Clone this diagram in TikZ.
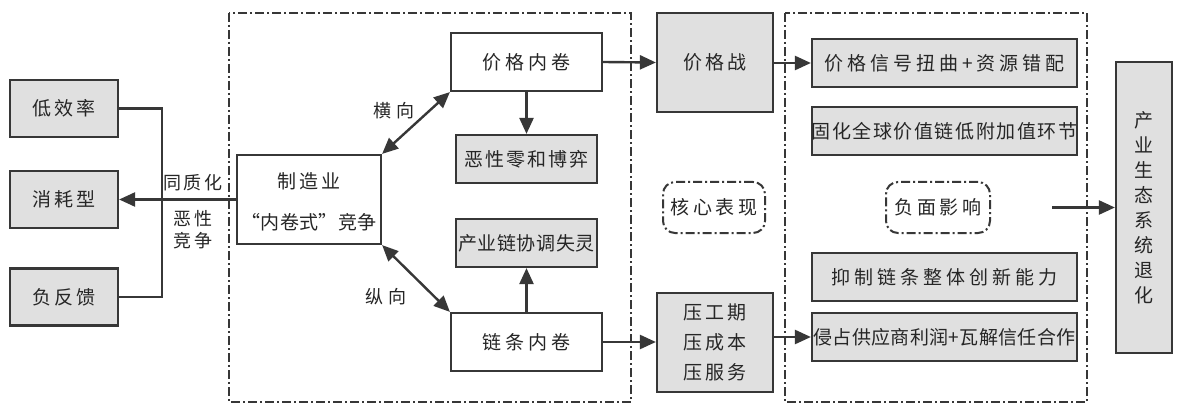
\documentclass[tikz,border=0pt]{standalone}
\usepackage{fontspec}
\newfontfamily\cjk{Noto Sans CJK SC}
\newcommand\lsp[1]{\addfontfeature{LetterSpace=#1}}
\usetikzlibrary{arrows.meta}
\definecolor{boxfill}{RGB}{224,224,224}
\definecolor{linec}{RGB}{55,55,55}
\tikzset{
  base/.style={font=\cjk\fontsize{19}{23}\selectfont, text=black!85, inner sep=0pt},
  plainbox/.style={base, draw=linec, line width=2.2pt, fill=white},
  graybox/.style={base, draw=linec, line width=2.2pt, fill=boxfill},
  ddframe/.style={draw=linec, line width=1.6pt, dash pattern=on 9pt off 3pt on 2pt off 3pt},
  roundlbl/.style={base, draw=linec, line width=2pt, rounded corners=12pt, dash pattern=on 9pt off 3pt on 2pt off 3pt},
  lbl/.style={base, font=\cjk\fontsize{18}{22}\selectfont},
  arr/.style={draw=linec, line width=2.4pt, -{Triangle[length=16pt,width=14pt]}},
  darr/.style={draw=linec, line width=2.4pt, {Triangle[length=16pt,width=14pt]}-{Triangle[length=16pt,width=14pt]}},
  ln/.style={draw=linec, line width=2.2pt}
}
\begin{document}
\begin{tikzpicture}[x=1pt,y=-1pt]
\useasboundingbox[fill=white] (0,0) rectangle (1179,409);
% frames
\draw[ddframe] (229,13) rectangle (631,402);
\draw[ddframe] (785,13) rectangle (1087,402);
% left boxes
\node[graybox, minimum width=108pt, minimum height=57pt] (lo) at (64,108.5) {\lsp{16}低效率};
\node[graybox, minimum width=108pt, minimum height=57pt] (xh) at (64,199.5) {\lsp{16}消耗型};
\node[graybox, minimum width=108pt, minimum height=57pt] (ff) at (64,297) {\lsp{16}负反馈};
% central
\node[plainbox, minimum width=144pt, minimum height=89pt] (zz) at (309,199.5) {};
\node[base] (zz1) at (309,181) {\lsp{16}制造业};
\node[base] (zz2) at (309,222) {\lsp{2}“内卷式”竞争};
\node[plainbox, minimum width=151pt, minimum height=58pt] (jgnj) at (526.5,62) {\lsp{21}价格内卷};
\node[graybox, minimum width=141pt, minimum height=48pt] (exl) at (526.5,159) {\lsp{10}恶性零和博弈};
\node[graybox, minimum width=141pt, minimum height=48pt] (cyl) at (526.5,243) {\lsp{3}产业链协调失灵};
\node[plainbox, minimum width=151pt, minimum height=58pt] (ltnj) at (526.5,342) {\lsp{21}链条内卷};
\node[graybox, minimum width=116pt, minimum height=99pt] (jgz) at (715,62.5) {\lsp{16}价格战};
\node[graybox, minimum width=116pt, minimum height=99pt, align=center, font=\cjk\fontsize{19}{30}\selectfont] (ygq) at (715,342.5) {\lsp{16}压工期\\\lsp{16}压成本\\\lsp{16}压服务};
\node[roundlbl, minimum width=102pt, minimum height=51pt] (hxbx) at (714,207.5) {\lsp{18}核心表现};
% right
\node[graybox, minimum width=265pt, minimum height=48pt] (r1) at (944.5,63) {\lsp{21}价格信号扭曲+资源错配};
\node[graybox, minimum width=265pt, minimum height=48pt] (r2) at (944.5,131) {\lsp{8}固化全球价值链低附加值环节};
\node[roundlbl, minimum width=104pt, minimum height=51pt] (fmyx) at (938,207.5) {\lsp{18}负面影响};
\node[graybox, minimum width=265pt, minimum height=48pt] (r3) at (944.5,277) {\lsp{21}抑制链条整体创新能力};
\node[graybox, minimum width=265pt, minimum height=48pt] (r4) at (944.5,337) {\lsp{2}侵占供应商利润+瓦解信任合作};
\node[graybox, minimum width=56pt, minimum height=291pt, align=center, font=\cjk\fontsize{19}{25}\selectfont] (fin) at (1144,207.5) {产\\业\\生\\态\\系\\统\\退\\化};
% labels
\node[lbl] (tzh) at (193,183) {\lsp{12}同质化};
\node[lbl, align=center, font=\cjk\fontsize{18}{22}\selectfont] (exjz) at (193,230) {\lsp{14}恶性\\\lsp{14}竞争};
\node[lbl] (hx) at (394,111) {\lsp{30}横向};
\node[lbl] (zx) at (386,297) {\lsp{30}纵向};
% connectors
\coordinate (bx) at (162,0);
\draw[ln] (lo.east) -| (bx |- ff.east) -- (ff.east);
\draw[arr] (zz.west) -- (xh.east);
\draw[darr] (zz.north east) -- (jgnj.south west);
\draw[darr] (zz.south east) -- (ltnj.north west);
\draw[arr] (jgnj.south) -- (exl.north);
\draw[arr] (ltnj.north) -- (cyl.south);
\draw[arr] (jgnj.east) -- (jgz.west);
\draw[arr] (ltnj.east) -- (ygq.west |- ltnj.east);
\draw[arr] (jgz.east |- r1.west) -- (r1.west);
\draw[arr] (ygq.east |- r4.west) -- (r4.west);
\coordinate (fs) at (1052,207.5);
\draw[arr] (fs) -- (fin.west);
\end{tikzpicture}
\end{document}
